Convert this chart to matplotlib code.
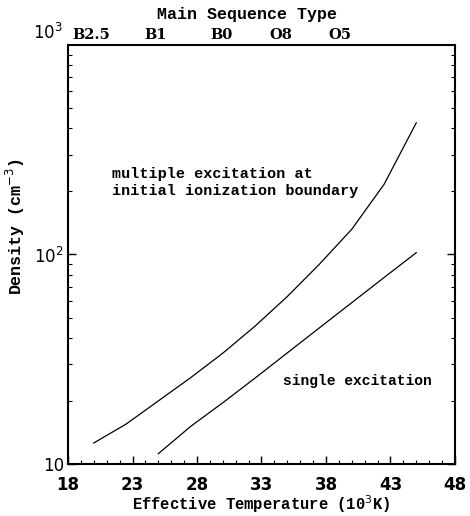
import matplotlib
matplotlib.use("Agg")
import matplotlib.pyplot as plt
from matplotlib.ticker import LogLocator, MultipleLocator, NullFormatter, FixedLocator

# Data (effective temperature in 10^3 K, density in cm^-3)
temp_multi = [20, 22.5, 25, 27.5, 30, 32.5, 35, 37.5, 40, 42.5, 45]
dens_multi = [12.6, 15.5, 20.0, 25.8, 33.8, 45.5, 63, 90, 132, 216, 425]
temp_single = [25, 27.5, 30, 32.5, 35, 37.5, 40, 42.5, 45]
dens_single = [11.2, 15.1, 19.6, 25.7, 33.9, 44.7, 58.9, 77.6, 102]

x_ticks = [18, 23, 28, 33, 38, 43, 48]
sptype_pos = [19.8, 24.8, 29.9, 34.5, 39.1]
sptype_labels = ["B2.5", "B1", "B0", "O8", "O5"]

mono = "Liberation Mono"

fig = plt.figure(figsize=(4.7, 5.16), dpi=100)
ax = fig.add_axes([0.1447, 0.1008, 0.8233, 0.812])

ax.plot(temp_multi, dens_multi, color="black", lw=0.9)
ax.plot(temp_single, dens_single, color="black", lw=0.9)

ax.set_xlim(18, 48)
ax.set_yscale("log")
ax.set_ylim(10, 1000)

for s in ax.spines.values():
    s.set_linewidth(1.5)

ax.xaxis.set_major_locator(FixedLocator(x_ticks))
ax.xaxis.set_minor_locator(MultipleLocator(1))
ax.set_xticklabels([str(t) for t in x_ticks], fontfamily="DejaVu Sans",
                   fontweight="bold", fontsize=12)
ax.tick_params(axis="x", which="major", direction="in", length=6, width=1.0, pad=9,
               top=False, bottom=True)
ax.tick_params(axis="x", which="minor", direction="in", length=3, width=0.8,
               top=False, bottom=True)

ax.yaxis.set_major_locator(FixedLocator([10, 100]))
ax.yaxis.set_minor_locator(LogLocator(base=10, subs=range(2, 10)))
ax.yaxis.set_minor_formatter(NullFormatter())
ax.set_yticklabels(["10", r"10$^{2}$"], fontfamily="DejaVu Sans", fontsize=12)
ax.tick_params(axis="y", which="major", direction="in", length=6, width=1.0, pad=3,
               left=True, right=True)
ax.tick_params(axis="y", which="minor", direction="in", length=3, width=0.8,
               left=True, right=True)
ax.text(-0.013, 1.0143, r"10$^{3}$", transform=ax.transAxes, ha="right", va="baseline",
        fontfamily="DejaVu Sans", fontsize=12)

# top spectral-type axis
for p, lab in zip(sptype_pos, sptype_labels):
    ax.text(p, 1.0143, lab, transform=ax.get_xaxis_transform(), ha="center",
            va="baseline", fontfamily="DejaVu Serif", fontweight="bold", fontsize=10.5)
fig.text(0.526, 0.971, "Main Sequence Type", ha="center", va="center",
         fontfamily=mono, fontweight="bold", fontsize=12)

ax.set_xlabel(r"Effective Temperature (10$^{3}$K)", fontfamily=mono, fontweight="bold",
              fontsize=11.2, va="center")
ax.xaxis.set_label_coords(0.5, -0.097)
ax.set_ylabel(r"Density (cm$^{-3}$)", fontfamily=mono, fontweight="bold", fontsize=12)
ax.yaxis.set_label_coords(-0.105, 0.566)

ax.text(21.4, 220, "multiple excitation at\ninitial ionization boundary",
        fontfamily=mono, fontweight="bold", fontsize=10.9, va="center", ha="left",
        linespacing=1.25)
ax.text(34.67, 24.8, "single excitation", fontfamily=mono, fontweight="bold",
        fontsize=10.5, va="center", ha="left")

fig.savefig("out.png", dpi=100)
